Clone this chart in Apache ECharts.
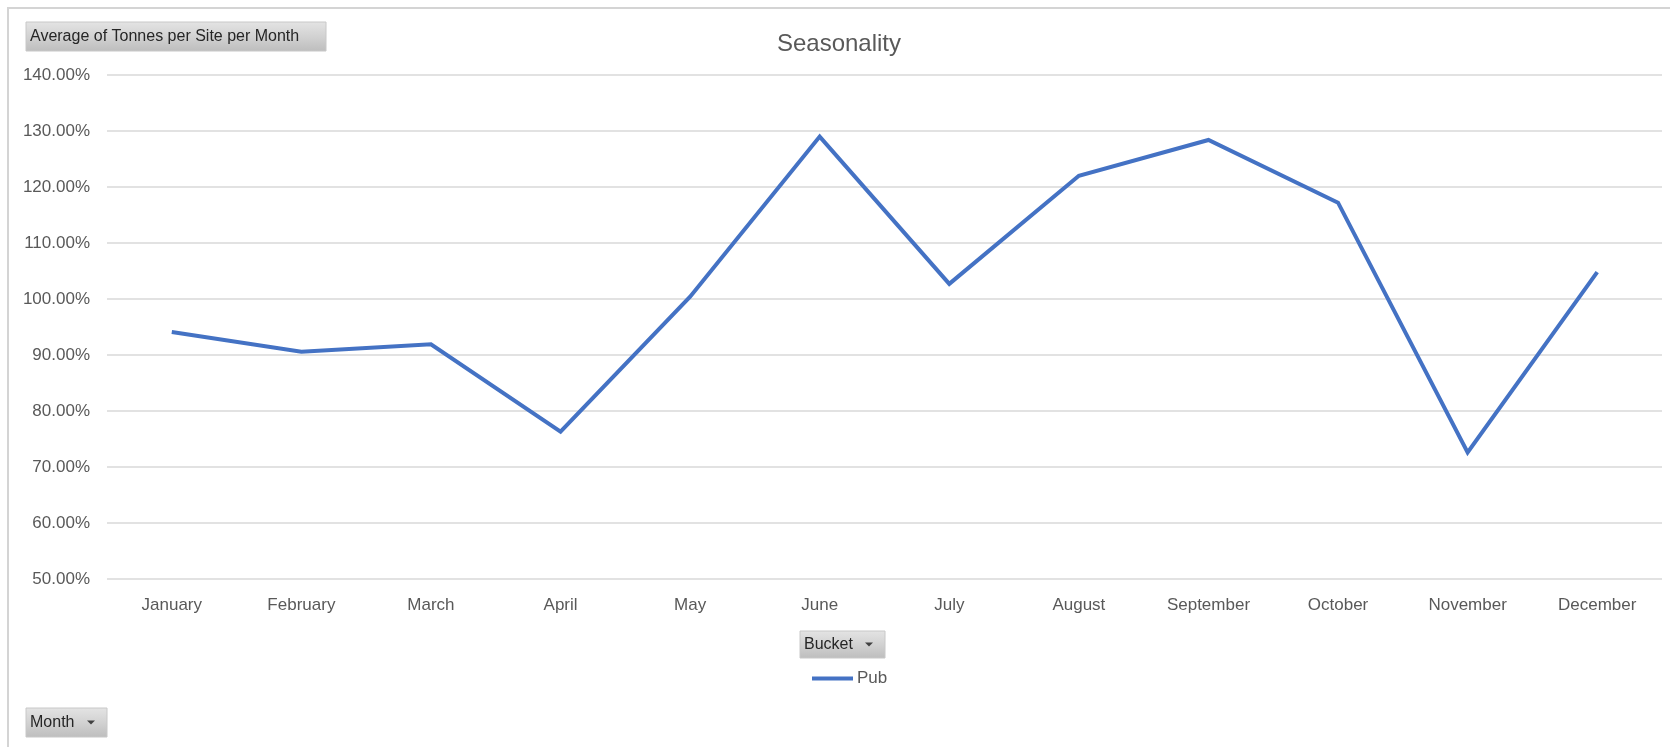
<!DOCTYPE html>
<html>
<head>
<meta charset="utf-8">
<title>Seasonality</title>
<script src="https://cdn.jsdelivr.net/npm/echarts@6/dist/echarts.min.js"></script>
<style>
  html, body { margin: 0; padding: 0; background: #ffffff; }
  #chart { width: 1670px; height: 747px; }
</style>
</head>
<body>
<div id="chart"></div>
<script>
// Month categories along the x axis
const months = ['January', 'February', 'March', 'April', 'May', 'June',
                'July', 'August', 'September', 'October', 'November', 'December'];

// Seasonality index (%) for the "Pub" bucket
const pubValues = [94.1, 90.6, 91.9, 76.3, 100.4, 129.0, 102.7, 122.0, 128.4, 117.2, 72.6, 104.8];

// Value axis range and step (%)
const yMin = 50;
const yMax = 140;
const yStep = 10;

const seriesName = 'Pub';
const chartTitle = 'Seasonality';
const valueFieldLabel = 'Average of Tonnes per Site per Month';
const legendFieldLabel = 'Bucket';
const axisFieldLabel = 'Month';

const FONT = '"Liberation Sans", Arial, sans-serif';
const TEXT_GREY = '#595959';
const GRID_GREY = '#d9d9d9';
const LINE_BLUE = '#4472C4';

// Grey pivot-chart field button (gradient box with label and optional dropdown arrow)
function fieldButton(x, y, w, h, label, withArrow) {
  const children = [
    {
      type: 'rect',
      shape: { x: 0, y: 0, width: w, height: h },
      style: {
        fill: {
          type: 'linear', x: 0, y: 0, x2: 0, y2: 1,
          colorStops: [
            { offset: 0, color: '#e4e4e4' },
            { offset: 0.5, color: '#d2d2d2' },
            { offset: 1, color: '#bdbdbd' }
          ]
        },
        stroke: '#c8c8c8',
        lineWidth: 1
      }
    },
    {
      type: 'text',
      x: 4, y: h / 2,
      style: {
        text: label,
        font: '16px ' + FONT,
        fill: '#262626',
        textVerticalAlign: 'middle'
      }
    }
  ];
  if (withArrow) {
    children.push({
      type: 'polygon',
      shape: { points: [[w - 20, h / 2 - 2], [w - 12, h / 2 - 2], [w - 16, h / 2 + 2]] },
      style: { fill: '#404040' }
    });
  }
  return { type: 'group', x: x, y: y, silent: true, children: children };
}

const chart = echarts.init(document.getElementById('chart'), null, { renderer: 'canvas' });

chart.setOption({
  backgroundColor: '#ffffff',
  animation: false,
  grid: { left: 107, right: 8, top: 75, bottom: 168, containLabel: false },
  xAxis: {
    type: 'category',
    data: months,
    boundaryGap: true,
    axisLine: { show: false },
    axisTick: { show: false },
    axisLabel: {
      color: TEXT_GREY,
      fontFamily: FONT,
      fontSize: 17,
      margin: 18
    },
    splitLine: { show: false }
  },
  yAxis: {
    type: 'value',
    min: yMin,
    max: yMax,
    interval: yStep,
    axisLine: { show: false },
    axisTick: { show: false },
    axisLabel: {
      color: TEXT_GREY,
      fontFamily: FONT,
      fontSize: 17,
      margin: 17,
      formatter: v => v.toFixed(2) + '%'
    },
    splitLine: { show: true, lineStyle: { color: GRID_GREY, width: 1.5 } }
  },
  legend: {
    data: [seriesName],
    left: 807,
    top: 665,
    icon: 'rect',
    itemWidth: 41,
    itemHeight: 4,
    itemGap: 4,
    textStyle: { color: TEXT_GREY, fontFamily: FONT, fontSize: 17, padding: [0, 0, 0, -1] }
  },
  series: [
    {
      name: seriesName,
      type: 'line',
      data: pubValues,
      symbol: 'none',
      smooth: false,
      lineStyle: { color: LINE_BLUE, width: 4, join: 'miter' },
      itemStyle: { color: LINE_BLUE }
    }
  ],
  graphic: [
    // outer frame of the chart area
    {
      type: 'polyline',
      silent: true,
      shape: { points: [[8, 747], [8, 8], [1670, 8]] },
      style: { stroke: '#d4d4d4', lineWidth: 2, fill: null }
    },
    {
      type: 'text',
      silent: true,
      x: 839, y: 44,
      style: {
        text: chartTitle,
        font: '24px ' + FONT,
        fill: TEXT_GREY,
        textAlign: 'center',
        textVerticalAlign: 'middle'
      }
    },
    fieldButton(26, 22, 300, 29, valueFieldLabel, false),
    fieldButton(800, 631, 85, 27, legendFieldLabel, true),
    fieldButton(26, 708, 81, 29, axisFieldLabel, true)
  ]
});
</script>
</body>
</html>
